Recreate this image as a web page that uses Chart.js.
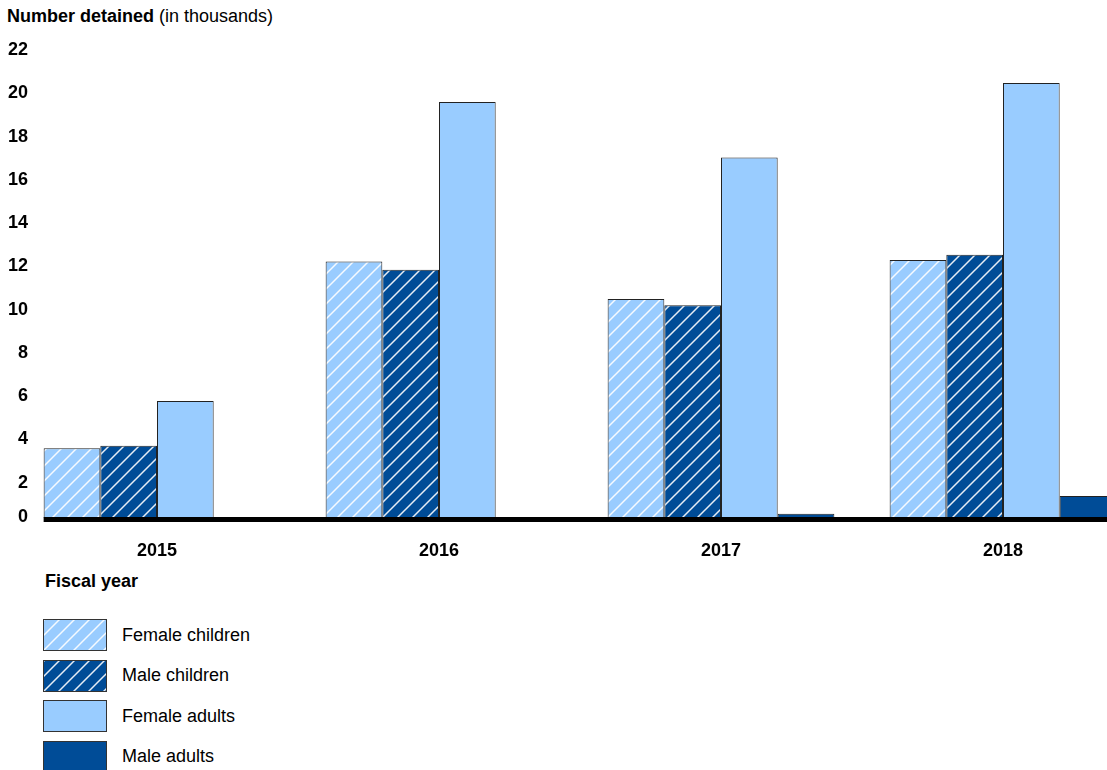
<!DOCTYPE html>
<html lang="en">
<head>
  <meta charset="UTF-8">
  <title>Number detained by fiscal year</title>
  <script src="https://cdn.jsdelivr.net/npm/chart.js"></script>
  <style>
    body {
      margin: 0;
      width: 1107px;
      height: 770px;
      overflow: hidden;
      position: relative;
      background: #fff;
      font-family: "Liberation Sans", Arial, sans-serif;
      color: #000;
    }
    #chart {
      position: absolute;
      left: 0;
      top: 0;
    }
    .ytitle {
      position: absolute;
      left: 7px;
      top: 6px;
      font-size: 18px;
    }
    .xtitle {
      position: absolute;
      left: 45px;
      top: 571px;
      font-size: 18px;
      font-weight: bold;
    }
    .legend {
      position: absolute;
      left: 43px;
      top: 619px;
    }
    .legend .item {
      height: 32px;
      margin-bottom: 8.5px;
      display: flex;
      align-items: center;
    }
    .legend .swatch {
      width: 62px;
      height: 30px;
      border: 1px solid #333;
      margin-right: 15px;
    }
    .legend span {
      font-size: 18px;
    }
  </style>
</head>
<body>

<div class="ytitle"><b>Number detained</b> (in thousands)</div>
<canvas id="chart" width="1144" height="560"></canvas>
<div class="xtitle">Fiscal year</div>
<div class="legend" id="legend"></div>

<script>
// data (thousands)
const years = ['2015', '2016', '2017', '2018'];
const femaleChildren = [3.22, 11.85, 10.12, 11.93];
const maleChildren = [3.34, 11.47, 9.83, 12.17];
const femaleAdults = [5.41, 19.23, 16.66, 20.10];
const maleAdults = [0, 0, 0.2, 1.02];
const seriesNames = ['Female children', 'Male children', 'Female adults', 'Male adults'];

const lightBlue = '#99ccff';
const darkBlue = '#004c97';

// diagonal white hatch tile
function hatchTile(color) {
  const s = 15;
  const c = document.createElement('canvas');
  c.width = s; c.height = s;
  const g = c.getContext('2d');
  g.fillStyle = color;
  g.fillRect(0, 0, s, s);
  g.strokeStyle = 'rgba(255,255,255,0.9)';
  g.lineWidth = 1.5;
  g.beginPath();
  g.moveTo(0, s); g.lineTo(s, 0);
  g.moveTo(-2, 2); g.lineTo(2, -2);
  g.moveTo(s - 2, s + 2); g.lineTo(s + 2, s - 2);
  g.stroke();
  return c;
}

const ctx = document.getElementById('chart').getContext('2d');
const fcTile = hatchTile(lightBlue);
const mcTile = hatchTile(darkBlue);
const fills = [
  ctx.createPattern(fcTile, 'repeat'),
  ctx.createPattern(mcTile, 'repeat'),
  lightBlue,
  darkBlue
];
const swatches = [
  'url(' + fcTile.toDataURL() + ')',
  'url(' + mcTile.toDataURL() + ')',
  lightBlue,
  darkBlue
];

// thick baseline at zero, starting at the first bar
const zeroLine = {
  id: 'zeroLine',
  afterDatasetsDraw(chart) {
    const y = chart.scales.y.getPixelForValue(0);
    const first = chart.getDatasetMeta(0).data[0];
    const c = chart.ctx;
    c.save();
    c.fillStyle = '#000';
    c.fillRect(first.x - first.width / 2, y - 1, chart.width, 5);
    c.restore();
  }
};

const allSeries = [femaleChildren, maleChildren, femaleAdults, maleAdults];

new Chart(ctx, {
  type: 'bar',
  data: {
    labels: years,
    datasets: allSeries.map((d, i) => ({
      label: seriesNames[i],
      data: d,
      backgroundColor: fills[i],
      borderColor: '#222',
      borderWidth: 1,
      borderSkipped: 'start',
      categoryPercentage: 0.804,
      barPercentage: 1.0
    }))
  },
  options: {
    responsive: false,
    animation: false,
    layout: { padding: { top: 42, left: 0, right: 0, bottom: 0 } },
    plugins: {
      legend: { display: false },
      tooltip: { enabled: false }
    },
    scales: {
      x: {
        grid: { display: false },
        border: { display: false },
        ticks: {
          color: '#000',
          padding: 14,
          font: { family: 'Liberation Sans', size: 18, weight: 'bold' }
        },
        afterFit(scale) { scale.height = 42; }
      },
      y: {
        min: 0,
        max: 22,
        grid: { display: false, drawTicks: false },
        border: { display: false },
        ticks: {
          stepSize: 2,
          autoSkip: false,
          color: '#000',
          mirror: true,
          padding: -8,
          labelOffset: 8,
          font: { family: 'Liberation Sans', size: 18, weight: 'bold', lineHeight: 1 },
          // two spaces = one digit width, so single digits line up on the right
          callback: v => {
            const s = v < 10 ? '  ' + v : String(v);
            return v === 0 ? [s, ''] : s;
          }
        },
        afterFit(scale) { scale.width = 16; }
      }
    }
  },
  plugins: [zeroLine]
});

// legend
const legend = document.getElementById('legend');
seriesNames.forEach((name, i) => {
  const item = document.createElement('div');
  item.className = 'item';
  const sw = document.createElement('div');
  sw.className = 'swatch';
  sw.style.background = swatches[i];
  const t = document.createElement('span');
  t.textContent = name;
  item.appendChild(sw);
  item.appendChild(t);
  legend.appendChild(item);
});
</script>
</body>
</html>
